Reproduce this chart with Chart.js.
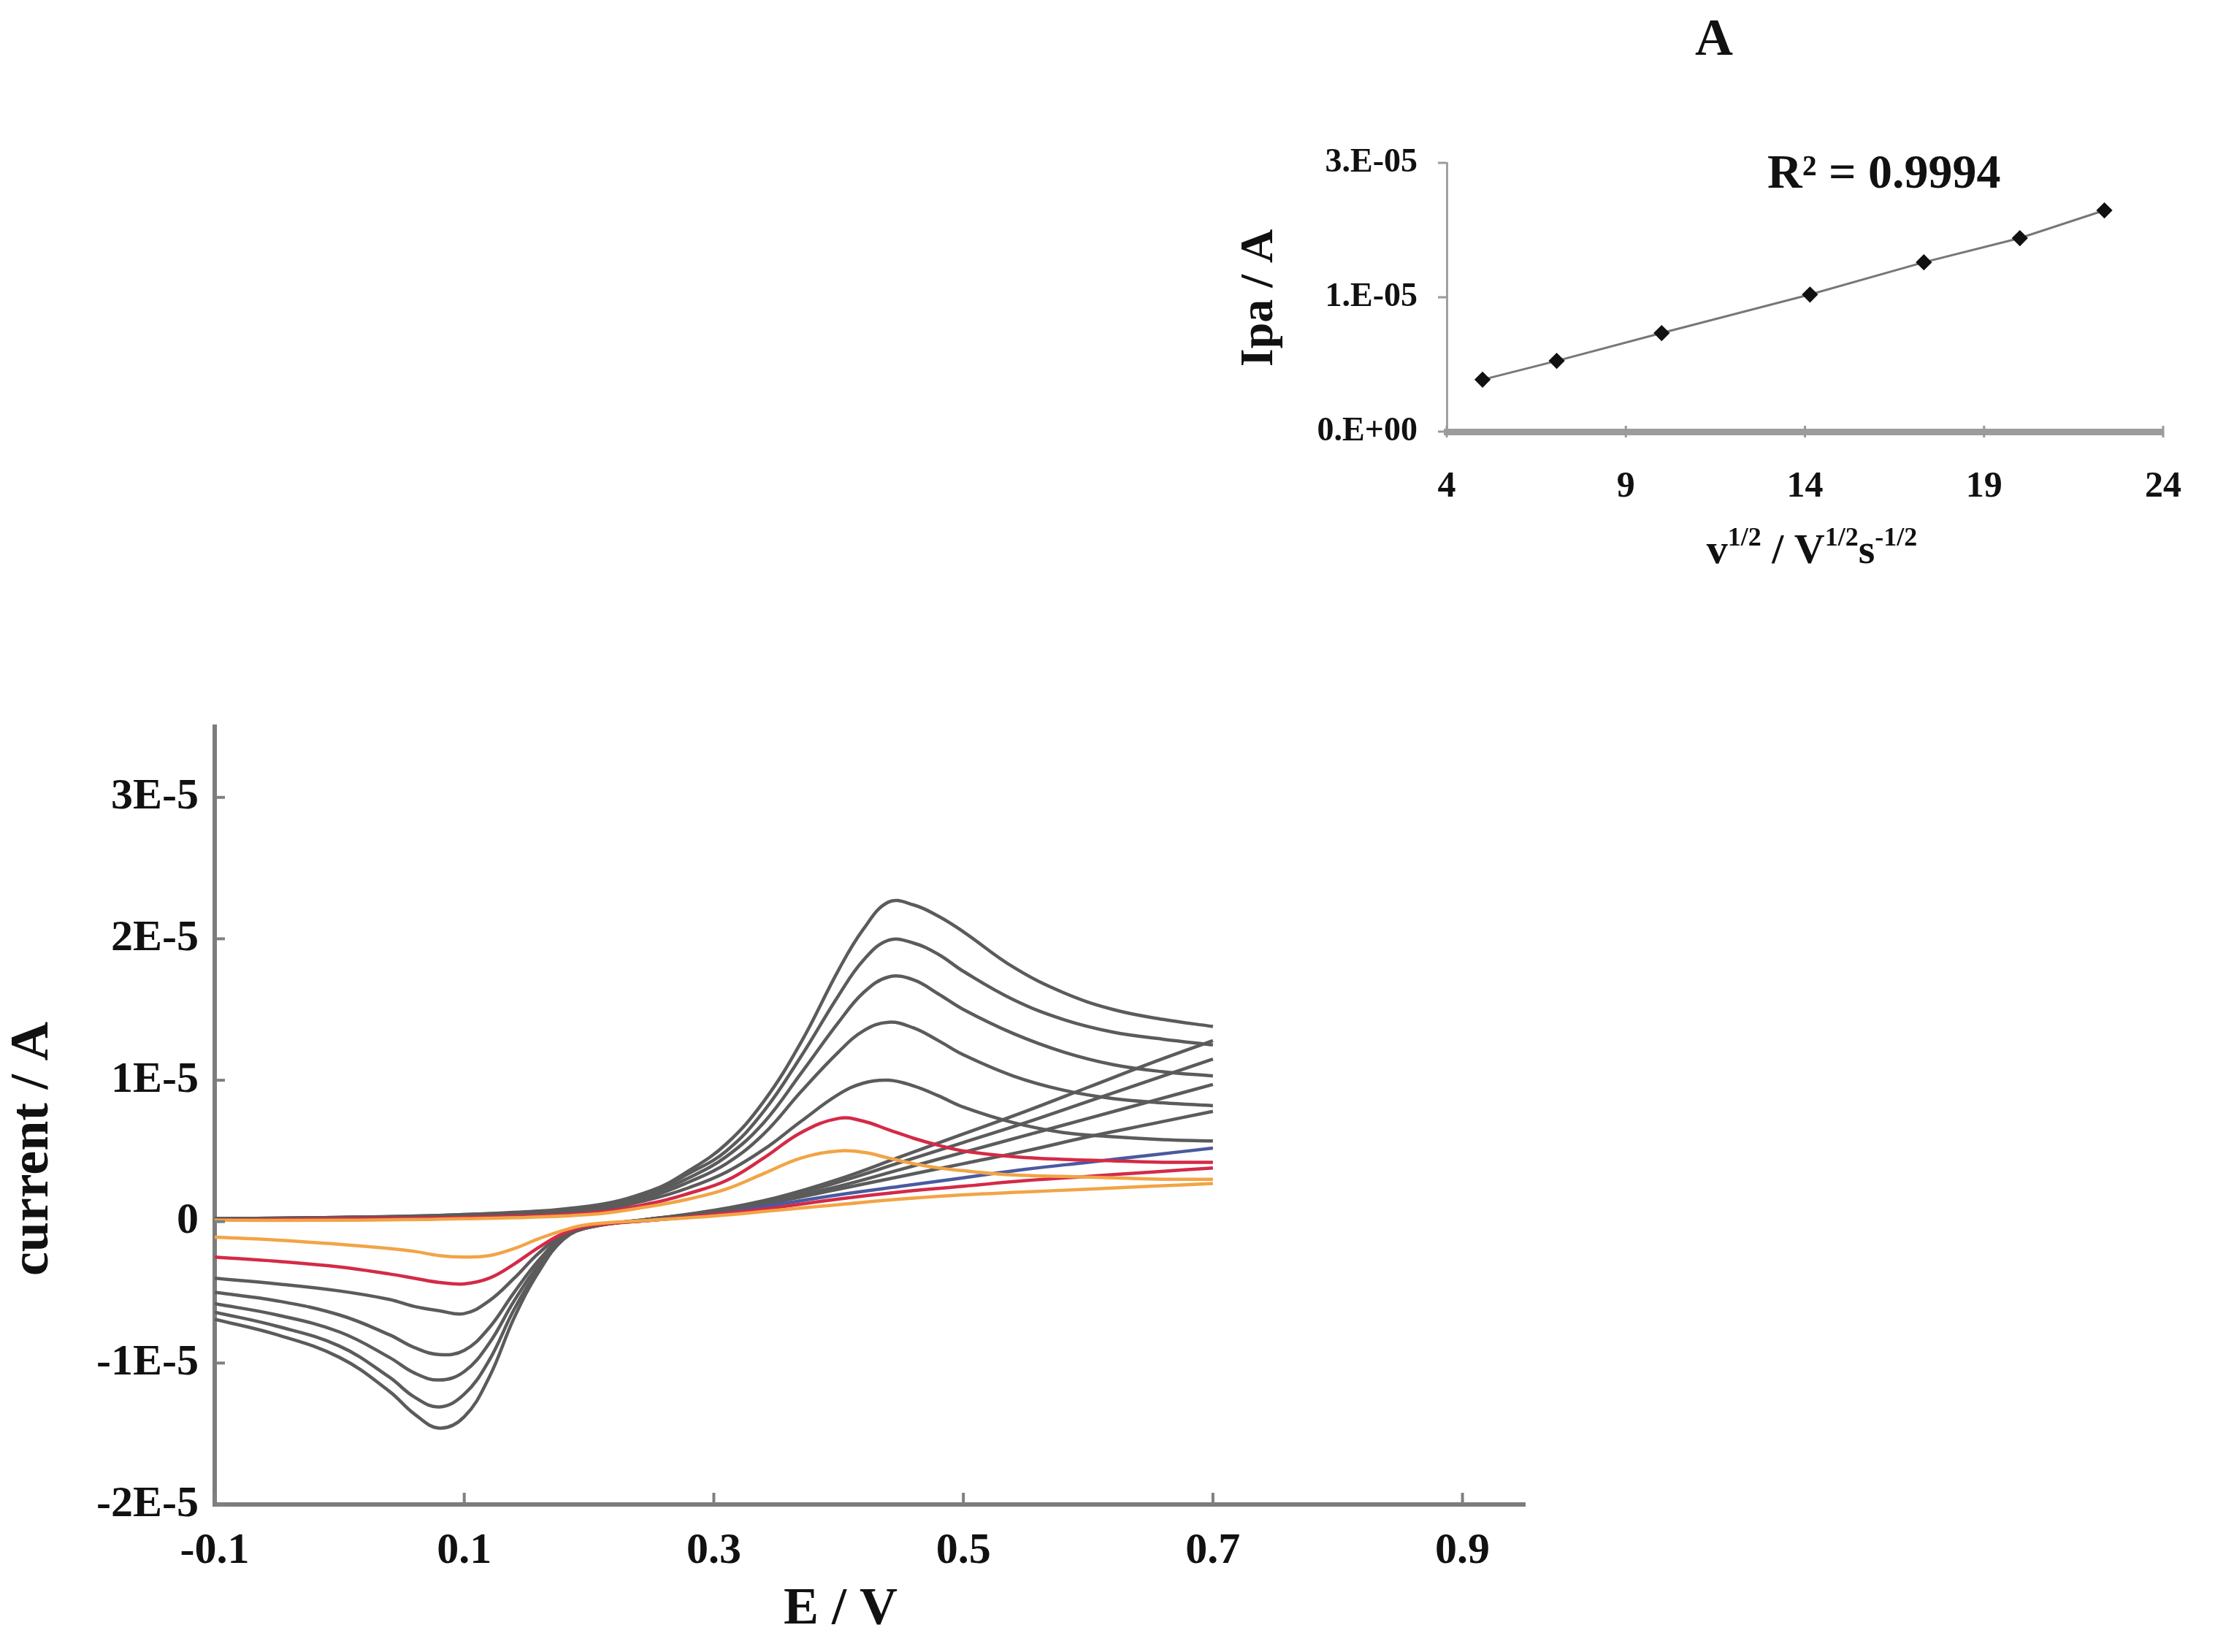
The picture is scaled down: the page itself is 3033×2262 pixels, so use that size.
<!DOCTYPE html>
<html>
<head>
<meta charset="utf-8">
<title>Cyclic voltammograms at different scan rates</title>
<script src="https://cdn.jsdelivr.net/npm/chart.js@4.4.1/dist/chart.umd.min.js"></script>
<style>
  html, body { margin: 0; padding: 0; background: #fff; }
  #wrap { position: relative; width: 3033px; height: 2262px; }
  #wrap canvas { position: absolute; left: 0; top: 0; }
</style>
</head>
<body>
<div id="wrap">
  <canvas id="cvChart" width="3033" height="2262"></canvas>
  <canvas id="insetChart" width="3033" height="2262"></canvas>
</div>
<script>
// ---- data (currents in units of 1E-5 A) ----
const scanRates = ['25', '50', '100', '200', '300', '400', '500']; // mV/s

// forward (anodic) sweep potentials, V
const potentialFwd = [-0.1, 0.0, 0.1, 0.2, 0.25, 0.28, 0.31, 0.34, 0.37, 0.4, 0.42, 0.44, 0.46, 0.48, 0.5, 0.54, 0.58, 0.62, 0.66, 0.7];
// reverse (cathodic) sweep potentials, V
const potentialRev = [0.7, 0.65, 0.6, 0.55, 0.5, 0.45, 0.4, 0.35, 0.3, 0.25, 0.2, 0.18, 0.16, 0.14, 0.12, 0.1, 0.08, 0.06, 0.04, 0.0, -0.05, -0.1];

const fwd25  = [0.01, 0.01, 0.02, 0.05, 0.11, 0.16, 0.23, 0.34, 0.45, 0.50, 0.49, 0.45, 0.41, 0.38, 0.36, 0.33, 0.32, 0.31, 0.30, 0.30];
const fwd50  = [0.01, 0.02, 0.03, 0.06, 0.13, 0.20, 0.29, 0.45, 0.63, 0.73, 0.71, 0.65, 0.59, 0.54, 0.50, 0.46, 0.44, 0.43, 0.42, 0.42];
const fwd100 = [0.01, 0.02, 0.03, 0.07, 0.16, 0.24, 0.35, 0.51, 0.71, 0.90, 0.98, 1.00, 0.96, 0.89, 0.81, 0.70, 0.63, 0.60, 0.58, 0.57];
const fwd200 = [0.02, 0.02, 0.04, 0.08, 0.18, 0.28, 0.41, 0.62, 0.92, 1.20, 1.35, 1.41, 1.37, 1.28, 1.18, 1.03, 0.93, 0.87, 0.84, 0.82];
const fwd300 = [0.02, 0.03, 0.04, 0.09, 0.20, 0.31, 0.46, 0.70, 1.05, 1.41, 1.62, 1.73, 1.71, 1.61, 1.50, 1.33, 1.20, 1.11, 1.06, 1.03];
const fwd400 = [0.02, 0.03, 0.05, 0.10, 0.21, 0.34, 0.50, 0.78, 1.17, 1.60, 1.85, 1.99, 1.97, 1.89, 1.77, 1.57, 1.43, 1.34, 1.29, 1.25];
const fwd500 = [0.02, 0.03, 0.05, 0.11, 0.22, 0.36, 0.55, 0.85, 1.27, 1.78, 2.07, 2.26, 2.24, 2.16, 2.05, 1.80, 1.62, 1.50, 1.43, 1.38];

const rev25  = [0.27, 0.25, 0.23, 0.21, 0.19, 0.16, 0.12, 0.08, 0.04, 0.01, -0.02, -0.06, -0.12, -0.19, -0.24, -0.25, -0.24, -0.21, -0.19, -0.16, -0.13, -0.11];
const rev50  = [0.38, 0.35, 0.32, 0.29, 0.25, 0.21, 0.16, 0.10, 0.05, 0.01, -0.03, -0.08, -0.18, -0.30, -0.40, -0.44, -0.43, -0.40, -0.37, -0.32, -0.28, -0.25];
const rev100 = [0.52, 0.47, 0.42, 0.37, 0.31, 0.25, 0.19, 0.12, 0.05, 0.01, -0.03, -0.09, -0.22, -0.40, -0.56, -0.65, -0.63, -0.60, -0.55, -0.49, -0.44, -0.40];
const rev200 = [0.78, 0.69, 0.60, 0.50, 0.41, 0.32, 0.23, 0.14, 0.06, 0.01, -0.03, -0.10, -0.27, -0.50, -0.75, -0.91, -0.94, -0.89, -0.80, -0.66, -0.56, -0.50];
const rev300 = [0.97, 0.85, 0.73, 0.61, 0.49, 0.37, 0.25, 0.15, 0.07, 0.02, -0.04, -0.11, -0.30, -0.56, -0.86, -1.06, -1.12, -1.07, -0.96, -0.78, -0.66, -0.58];
const rev400 = [1.15, 1.00, 0.85, 0.70, 0.56, 0.42, 0.28, 0.16, 0.07, 0.02, -0.04, -0.12, -0.33, -0.62, -0.98, -1.22, -1.31, -1.24, -1.10, -0.88, -0.74, -0.64];
const rev500 = [1.28, 1.12, 0.95, 0.78, 0.62, 0.46, 0.30, 0.17, 0.08, 0.02, -0.04, -0.12, -0.35, -0.68, -1.10, -1.38, -1.46, -1.36, -1.20, -0.96, -0.80, -0.69];

const forwardSeries = [fwd25, fwd50, fwd100, fwd200, fwd300, fwd400, fwd500];
const reverseSeries = [rev25, rev50, rev100, rev200, rev300, rev400, rev500];

const xTicks = [-0.1, 0.1, 0.3, 0.5, 0.7, 0.9];
const xTickLabels = ['-0.1', '0.1', '0.3', '0.5', '0.7', '0.9'];
const yTicks = [-2, -1, 0, 1, 2, 3];
const yTickLabels = ['-2E-5', '-1E-5', '0', '1E-5', '2E-5', '3E-5'];

// inset: peak current vs square root of scan rate
const sqrtScanRate = [5.00, 7.07, 10.00, 14.14, 17.32, 20.00, 22.36];
const peakCurrent = [0.58, 0.79, 1.10, 1.53, 1.89, 2.16, 2.47];
const insetXTicks = [4, 9, 14, 19, 24];
const insetYTicks = [0, 1.5, 3];
const insetYTickLabels = ['0.E+00', '1.E-05', '3.E-05'];

// ---- styling ----
const SERIF = "'Liberation Serif', 'Times New Roman', serif";
const GRAY = '#5b5b5b';
const fwdColors = ['#f2a446', '#d42a46', GRAY, GRAY, GRAY, GRAY, GRAY];
const revAnodicColors = ['#f2a446', '#d42a46', '#4a5aa0', GRAY, GRAY, GRAY, GRAY];
const revCathodicColors = ['#f2a446', '#d42a46', GRAY, GRAY, GRAY, GRAY, GRAY];

// free text (axis titles etc.)
const freeText = {
  id: 'freeText',
  afterDraw(chart, args, opts) {
    const ctx = chart.ctx;
    (opts.items || []).forEach(it => {
      ctx.save();
      ctx.translate(it.x, it.y);
      if (it.rotate) ctx.rotate(it.rotate);
      ctx.fillStyle = '#111';
      ctx.textBaseline = 'middle';
      if (it.runs) {
        let total = 0;
        it.runs.forEach(r => { ctx.font = r.font; total += ctx.measureText(r.text).width; });
        let cx = -total / 2;
        ctx.textAlign = 'left';
        it.runs.forEach(r => {
          ctx.font = r.font;
          ctx.fillText(r.text, cx, r.dy || 0);
          cx += ctx.measureText(r.text).width;
        });
      } else {
        ctx.font = it.font;
        ctx.textAlign = it.align || 'center';
        ctx.fillText(it.text, 0, 0);
      }
      ctx.restore();
    });
  }
};

// small tick marks on the axes
const tickMarks = {
  id: 'tickMarks',
  afterDraw(chart, args, o) {
    const { ctx, chartArea, scales: { x, y } } = chart;
    ctx.save();
    ctx.strokeStyle = o.color;
    ctx.lineWidth = o.width;
    x.ticks.forEach(t => {
      const px = x.getPixelForValue(t.value);
      ctx.beginPath();
      ctx.moveTo(px, chartArea.bottom + o.xDown);
      ctx.lineTo(px, chartArea.bottom - o.xUp);
      ctx.stroke();
    });
    y.ticks.forEach(t => {
      const py = y.getPixelForValue(t.value);
      ctx.beginPath();
      ctx.moveTo(chartArea.left - o.yLeft, py);
      ctx.lineTo(chartArea.left + o.yRight, py);
      ctx.stroke();
    });
    ctx.restore();
  }
};

// ---- main CV chart ----
const splitAt = potentialRev.indexOf(0.25);
const cvDatasets = [];
scanRates.forEach((rate, k) => {
  const rev = potentialRev.map((e, i) => ({ x: e, y: reverseSeries[k][i] }));
  cvDatasets.push({
    label: rate + ' mV/s forward',
    data: potentialFwd.map((e, i) => ({ x: e, y: forwardSeries[k][i] })),
    borderColor: fwdColors[k]
  });
  cvDatasets.push({
    label: rate + ' mV/s reverse (anodic)',
    data: rev.slice(0, splitAt + 1),
    borderColor: revAnodicColors[k]
  });
  cvDatasets.push({
    label: rate + ' mV/s reverse (cathodic)',
    data: rev.slice(splitAt),
    borderColor: revCathodicColors[k]
  });
});
cvDatasets.forEach(d => {
  d.showLine = true;
  d.borderWidth = 4.5;
  d.pointRadius = 0;
  d.tension = 0.4;
  d.fill = false;
});

new Chart(document.getElementById('cvChart').getContext('2d'), {
  type: 'scatter',
  data: { datasets: cvDatasets },
  plugins: [freeText, tickMarks],
  options: {
    responsive: false,
    animation: false,
    devicePixelRatio: 1,
    layout: { padding: { left: 0, top: 995, right: 945, bottom: 0 } },
    plugins: {
      legend: { display: false },
      tooltip: { enabled: false },
      tickMarks: { color: '#808080', width: 4, xUp: 16, xDown: 0, yLeft: 0, yRight: 14 },
      freeText: {
        items: [
          { text: 'current / A', x: 46, y: 1573, rotate: -Math.PI / 2, font: 'bold 74px ' + SERIF },
          { text: 'E / V', x: 1151, y: 2204, font: 'bold 72px ' + SERIF }
        ]
      }
    },
    scales: {
      x: {
        type: 'linear',
        min: -0.1,
        max: 0.95,
        afterFit(scale) { scale.height = 202; },
        afterBuildTicks(scale) { scale.ticks = xTicks.map(v => ({ value: v })); },
        grid: { drawOnChartArea: false, drawTicks: false },
        border: { display: true, color: '#7c7c7c', width: 6 },
        ticks: {
          padding: 28,
          color: '#111',
          font: { family: SERIF, size: 60, weight: 'bold' },
          callback: (v, i) => xTickLabels[i]
        }
      },
      y: {
        type: 'linear',
        min: -2,
        max: 3.5,
        afterFit(scale) { scale.width = 294; },
        afterBuildTicks(scale) { scale.ticks = yTicks.map(v => ({ value: v })); },
        grid: { drawOnChartArea: false, drawTicks: false },
        border: { display: true, color: '#7c7c7c', width: 6 },
        ticks: {
          padding: 22,
          color: '#111',
          font: { family: SERIF, size: 60, weight: 'bold' },
          callback: (v, i) => yTickLabels[i]
        }
      }
    }
  }
});

// ---- inset: Ipa vs v^1/2 ----
new Chart(document.getElementById('insetChart').getContext('2d'), {
  type: 'scatter',
  data: {
    datasets: [{
      label: 'Ipa',
      data: sqrtScanRate.map((v, i) => ({ x: v, y: peakCurrent[i] })),
      showLine: true,
      borderColor: '#777',
      borderWidth: 3,
      tension: 0,
      pointStyle: 'rectRot',
      pointRadius: 9,
      pointBackgroundColor: '#111',
      pointBorderColor: '#111'
    }]
  },
  plugins: [freeText, tickMarks],
  options: {
    responsive: false,
    animation: false,
    devicePixelRatio: 1,
    layout: { padding: { left: 0, top: 223, right: 56, bottom: 0 } },
    plugins: {
      legend: { display: false },
      tooltip: { enabled: false },
      tickMarks: { color: '#9a9a9a', width: 3, xUp: 8, xDown: 8, yLeft: 12, yRight: 0 },
      freeText: {
        items: [
          { text: 'A', x: 2347, y: 56, font: 'bold 72px ' + SERIF },
          { text: 'R\u00B2 = 0.9994', x: 2420, y: 240, align: 'left', font: 'bold 66px ' + SERIF },
          { text: 'Ipa / A', x: 1725, y: 408, rotate: -Math.PI / 2, font: 'bold 64px ' + SERIF },
          {
            x: 2481, y: 756,
            runs: [
              { text: 'v', font: 'bold 58px ' + SERIF },
              { text: '1/2', font: 'bold 36px ' + SERIF, dy: -18 },
              { text: ' / V', font: 'bold 58px ' + SERIF },
              { text: '1/2', font: 'bold 36px ' + SERIF, dy: -18 },
              { text: 's', font: 'bold 58px ' + SERIF },
              { text: '-1/2', font: 'bold 36px ' + SERIF, dy: -18 }
            ]
          }
        ]
      }
    },
    scales: {
      x: {
        type: 'linear',
        min: 4,
        max: 24,
        afterFit(scale) { scale.height = 1671; },
        afterBuildTicks(scale) { scale.ticks = insetXTicks.map(v => ({ value: v })); },
        grid: { drawOnChartArea: false, drawTicks: false },
        border: { display: true, color: '#9c9c9c', width: 9 },
        ticks: {
          padding: 46,
          color: '#111',
          font: { family: SERIF, size: 50, weight: 'bold' }
        }
      },
      y: {
        type: 'linear',
        min: 0,
        max: 3,
        afterFit(scale) { scale.width = 1981; },
        afterBuildTicks(scale) { scale.ticks = insetYTicks.map(v => ({ value: v })); },
        grid: { drawOnChartArea: false, drawTicks: false },
        border: { display: true, color: '#a0a0a0', width: 3 },
        ticks: {
          padding: 40,
          color: '#111',
          font: { family: SERIF, size: 46, weight: 'bold' },
          callback: (v, i) => insetYTickLabels[i]
        }
      }
    }
  }
});
</script>
</body>
</html>
